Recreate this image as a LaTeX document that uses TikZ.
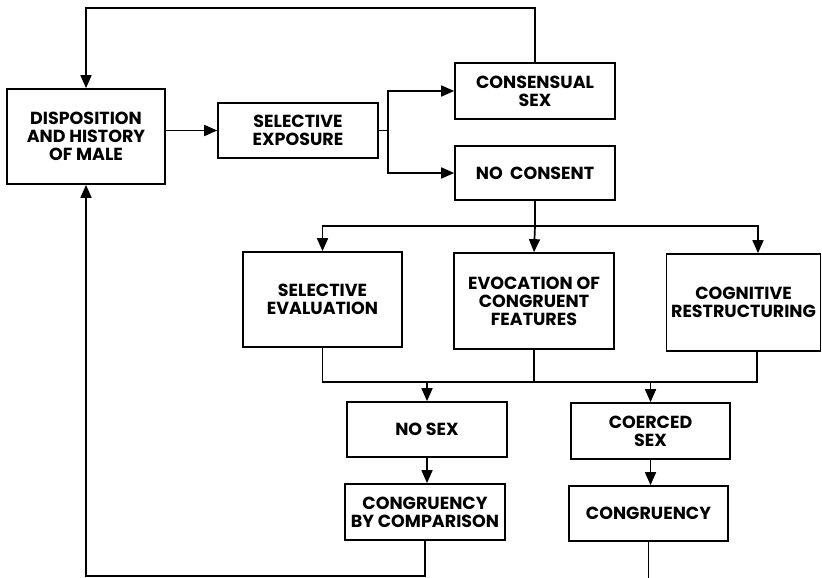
\documentclass[tikz,border=0pt]{standalone}
\usepackage{fontspec}
\setmainfont{Poppins}
\usetikzlibrary{arrows.meta,calc}
\begin{document}
\begin{tikzpicture}[x=1pt,y=-1pt,
  box/.style={draw,line width=1.7pt,inner sep=0pt,align=center,
    font=\fontsize{17.5}{18}\selectfont\bfseries},
  conn/.style={line width=1.7pt},
  arr/.style={conn,-{Triangle[length=13pt,width=11pt]}}]
\useasboundingbox (0,0) rectangle (822,578);
% nodes
\node[box,minimum width=158pt,minimum height=95pt] (disp) at (86,136.5) {DISPOSITION\\AND HISTORY\\OF MALE};
\node[box,minimum width=160pt,minimum height=55pt] (selexp) at (298,130.5) {SELECTIVE\\EXPOSURE};
\node[box,minimum width=160pt,minimum height=56pt] (cons) at (535,91) {CONSENSUAL\\SEX};
\node[box,minimum width=160pt,minimum height=54pt] (nocons) at (535,173) {NO\ \ CONSENT};
\node[box,minimum width=159pt,minimum height=95pt] (seleval) at (322.5,299.5) {SELECTIVE\\EVALUATION};
\node[box,minimum width=160pt,minimum height=96pt] (evoc) at (534,301) {EVOCATION OF\\CONGRUENT\\FEATURES};
\node[box,minimum width=154pt,minimum height=97pt] (cogn) at (743.5,302.5) {COGNITIVE\\RESTRUCTURING};
\node[box,minimum width=160pt,minimum height=55pt] (nosex) at (427,429.5) {NO SEX};
\node[box,minimum width=160pt,minimum height=56pt] (cbc) at (425,512) {CONGRUENCY\\BY COMPARISON};
\node[box,minimum width=159pt,minimum height=56pt] (coerced) at (650.5,431) {COERCED\\SEX};
\node[box,minimum width=159pt,minimum height=55pt] (congr) at (648.5,513.5) {CONGRUENCY};
% helper coordinates
\coordinate (ytop) at (0,8);
\coordinate (br) at (388,130.5);
\coordinate (bus1) at (535,226);
\coordinate (bus2) at (322.5,382);
\coordinate (ybot) at (0,576);
\coordinate (yedge) at (0,578);
% connectors
\draw[arr] (cons.north) -- (cons.north |- ytop) -| (disp.north);
\draw[arr] (disp.east |- selexp.west) -- (selexp.west);
\draw[conn] (selexp.east) -- (br);
\draw[arr] (br) |- (cons.west);
\draw[arr] (br) |- (nocons.west);
\draw[conn] (nocons.south) -- (bus1);
\draw[arr] (bus1) -| (seleval.north);
\draw[arr] (bus1) -- (evoc.north);
\draw[arr] (bus1) -| ([xshift=14.5pt]cogn.north);
\draw[conn] (seleval.south) -- (bus2) -| ([xshift=13.5pt]cogn.south);
\draw[conn] (evoc.south) -- (evoc.south |- bus2);
\draw[arr] (nosex.north |- bus2) -- (nosex.north);
\draw[arr] (coerced.north |- bus2) -- (coerced.north);
\draw[arr] (nosex.south) -- (cbc.north -| nosex.south);
\draw[arr] (coerced.south) -- (congr.north -| coerced.south);
\draw[arr] (cbc.south) -- (cbc.south |- ybot) -| (disp.south);
\draw[conn] (congr.south) -- (congr.south |- yedge);
\end{tikzpicture}
\end{document}
